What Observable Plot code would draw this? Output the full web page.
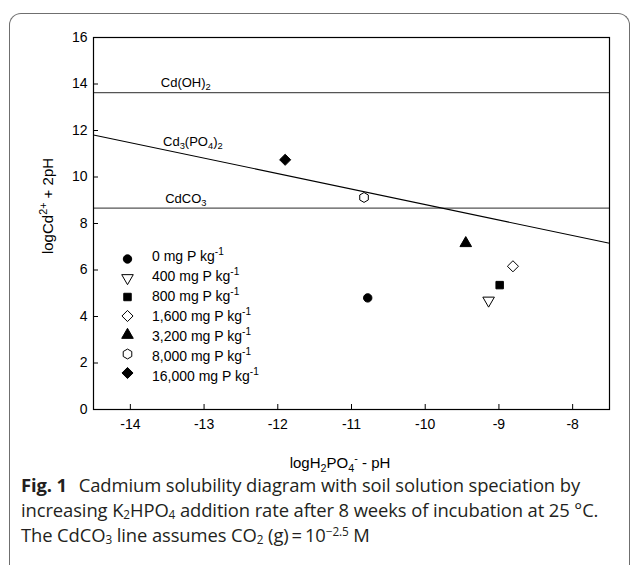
<!DOCTYPE html>
<html><head><meta charset="utf-8">
<script src="https://cdn.jsdelivr.net/npm/d3@7"></script>
<script src="https://cdn.jsdelivr.net/npm/@observablehq/plot@0.6"></script>
<style>
html,body{margin:0;padding:0;background:#fff;}
body{width:630px;height:565px;overflow:hidden;position:relative;font-family:"Liberation Sans",Arial,sans-serif;color:#000;}
#box{position:absolute;left:9px;top:13px;width:619px;height:560px;border:1px solid #6f6f6f;border-bottom:none;border-radius:12px 12px 0 0;}
#chart,#legendSym{position:absolute;left:0;top:0;}
.lbl{position:absolute;font-size:13px;white-space:nowrap;line-height:1;transform:translate(0,-50%);}
.lbl sub,.lbl sup,.ttl sub,.ttl sup,#legendTxt sup{font-size:72%;line-height:0;}
.ttl{position:absolute;font-size:15px;white-space:nowrap;line-height:1;}
#legendTxt{position:absolute;left:152px;top:246px;font-size:14px;line-height:20px;white-space:nowrap;}
#caption{position:absolute;left:21px;top:472px;font-family:"Open Sans",sans-serif;font-size:18.4px;line-height:25px;color:#231f20;white-space:nowrap;letter-spacing:-0.1px;}
#caption sub,#caption sup{font-size:64%;line-height:0;}
#caption sub{vertical-align:-0.18em;}
#caption sup{vertical-align:0.5em;}
#caption b{font-weight:700;margin-right:7px;}
</style></head><body>
<div id="box"></div>
<div id="chart"></div>
<div id="legendSym"></div>
<div id="legendTxt"></div>
<div id="caption"><b>Fig. 1</b> Cadmium solubility diagram with soil solution speciation by<br>increasing K<sub>2</sub>HPO<sub>4</sub> addition rate after 8 weeks of incubation at 25 °C.<br>The CdCO<sub>3</sub> line assumes CO<sub>2</sub> (g)&#8201;=&#8201;10<sup>−2.5</sup> M</div>
<script>
// ---- data ----
const seriesRates = ["0", "400", "800", "1,600", "3,200", "8,000", "16,000"];
const xValues = [-10.78, -9.14, -8.99, -8.81, -9.45, -10.83, -11.90];
const yValues = [4.80, 4.69, 5.35, 6.16, 7.15, 9.12, 10.74];
const symbolNames = ["circle", "triangleDown", "square", "diamond", "triangle", "hexagon", "diamond"];
const filled = [true, false, true, false, true, false, true];
const cdOH2Level = 13.63;
const cdCO3Level = 8.66;
const phosphateX = [-14.5, -7.5];
const phosphateY = [11.81, 7.15];
const xTicks = [-14, -13, -12, -11, -10, -9, -8];
const yTicks = [0, 2, 4, 6, 8, 10, 12, 14, 16];

// ---- symbols ----
const sqrt3 = Math.sqrt(3);
const triangleDown = {draw(ctx, size) {
  const y = -Math.sqrt(size / (sqrt3 * 3));
  ctx.moveTo(0, -y * 2); ctx.lineTo(-sqrt3 * y, y); ctx.lineTo(sqrt3 * y, y); ctx.closePath();
}};
const hexagon = {draw(ctx, size) {
  const r = Math.sqrt(size * 2 / (3 * sqrt3));
  for (let i = 0; i < 6; i++) {
    const a = Math.PI / 3 * i - Math.PI / 2;
    const px = r * Math.cos(a), py = r * Math.sin(a);
    if (i) ctx.lineTo(px, py); else ctx.moveTo(px, py);
  }
  ctx.closePath();
}};
const symbolMap = {circle: d3.symbolCircle, triangle: d3.symbolTriangle, triangleDown, square: d3.symbolSquare, diamond: d3.symbolDiamond2, hexagon};
const sizeMap = {circle: 4.2, triangle: 4.3, triangleDown: 4.3, square: 4.2, diamond: 5, hexagon: 4.5};

const points = seriesRates.map((rate, i) => ({
  rate, x: xValues[i], y: yValues[i],
  symbol: symbolMap[symbolNames[i]], r: sizeMap[symbolNames[i]],
  fill: filled[i] ? "black" : "white"
}));
const phosphateLine = phosphateX.map((x, i) => ({x, y: phosphateY[i]}));

const W = 630, H = 445, mL = 93, mR = 21, mT = 37, mB = 36;
const frameW = W - mL - mR, frameH = H - mT - mB;

const chart = Plot.plot({
  width: W, height: H,
  marginLeft: mL, marginRight: mR, marginTop: mT, marginBottom: mB,
  style: {fontFamily: "'Liberation Sans', Arial, sans-serif", fontSize: "14px", color: "black", background: "transparent"},
  x: {domain: [-14.5, -7.5], ticks: xTicks, tickSize: 0, tickPadding: 10, tickFormat: d => String(d), label: null},
  y: {domain: [0, 16], ticks: yTicks, tickSize: 0, tickPadding: 6, tickFormat: d => String(d), label: null},
  symbol: {type: "identity"},
  r: {type: "identity"},
  marks: [
    Plot.ruleY([cdOH2Level], {stroke: "#555", strokeWidth: 1.4}),
    Plot.ruleY([cdCO3Level], {stroke: "#555", strokeWidth: 1.4}),
    Plot.line(phosphateLine, {x: "x", y: "y", stroke: "black", strokeWidth: 1.1}),
    Plot.ruleX(xTicks, {x: d => d, insetTop: frameH - 5, stroke: "black"}),
    Plot.ruleY(yTicks, {y: d => d, insetRight: frameW - 5, stroke: "black"}),
    Plot.frame({stroke: "black", strokeWidth: 1.2}),
    Plot.dot(points, {x: "x", y: "y", symbol: "symbol", r: "r", fill: "fill", stroke: "black", strokeWidth: 1})
  ]
});
document.getElementById("chart").appendChild(chart);

const sx = chart.scale("x"), sy = chart.scale("y");

// line labels
const lineLabels = [
  {html: "Cd(OH)<sub>2</sub>", x: -13.58, level: cdOH2Level, dy: -10},
  {html: "Cd<sub>3</sub>(PO<sub>4</sub>)<sub>2</sub>", x: -13.55, level: null, dy: -8},
  {html: "CdCO<sub>3</sub>", x: -13.52, level: cdCO3Level, dy: -10}
];
const interpPhos = x => phosphateY[0] + (phosphateY[1] - phosphateY[0]) * (x - phosphateX[0]) / (phosphateX[1] - phosphateX[0]);
for (const l of lineLabels) {
  const d = document.createElement("div");
  d.className = "lbl";
  d.innerHTML = l.html;
  const yv = l.level != null ? l.level : interpPhos(l.x);
  d.style.left = sx.apply(l.x) + "px";
  d.style.top = (sy.apply(yv) + l.dy) + "px";
  document.body.appendChild(d);
}

// axis titles
const xt = document.createElement("div");
xt.className = "ttl";
xt.innerHTML = "logH<sub>2</sub>PO<sub>4</sub><sup>-</sup> - pH";
xt.style.left = "340px"; xt.style.top = "462px"; xt.style.transform = "translate(-50%,-50%)";
document.body.appendChild(xt);
const yt = document.createElement("div");
yt.className = "ttl";
yt.innerHTML = "logCd<sup>2+</sup> + 2pH";
yt.style.left = "47px"; yt.style.top = "206px"; yt.style.transform = "translate(-50%,-50%) rotate(-90deg)";
document.body.appendChild(yt);

// legend
const legend = Plot.plot({
  width: 40, height: 140, margin: 0,
  x: {domain: [0, 1], axis: null},
  y: {type: "band", domain: seriesRates, axis: null},
  symbol: {type: "identity"}, r: {type: "identity"},
  style: {background: "transparent"},
  marks: [Plot.dot(points, {x: () => 0.5, y: "rate", symbol: "symbol", r: "r", fill: "fill", stroke: "black", strokeWidth: 1})]
});
const ls = document.getElementById("legendSym");
ls.style.left = "107px"; ls.style.top = "246px";
ls.appendChild(legend);
document.getElementById("legendTxt").innerHTML = seriesRates.map(r => `${r} mg P kg<sup>-1</sup>`).join("<br>");
</script>
</body></html>
